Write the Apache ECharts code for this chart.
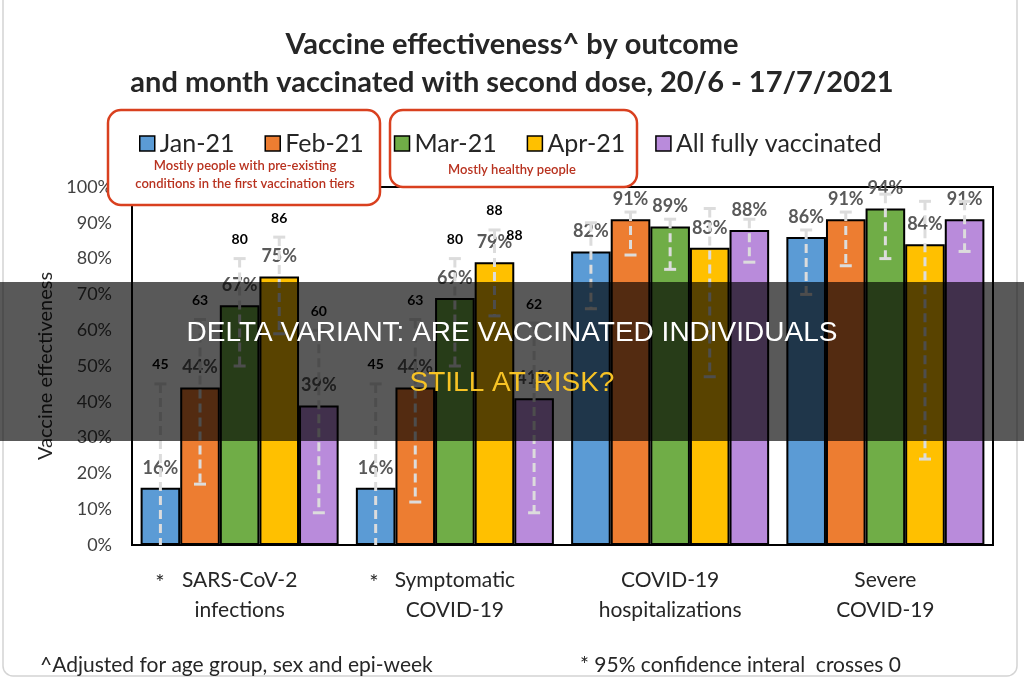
<!DOCTYPE html>
<html>
<head>
<meta charset="utf-8">
<script src="https://cdn.jsdelivr.net/npm/echarts@6/dist/echarts.min.js"></script>
<style>
  html, body { margin: 0; padding: 0; background: #fff; }
  #main { width: 1024px; height: 680px; }
</style>
</head>
<body>
<div id="main"></div>
<script>
// categories + series
var outcomes = ['SARS-CoV-2\ninfections', 'Symptomatic\nCOVID-19', 'COVID-19\nhospitalizations', 'Severe\nCOVID-19'];
var months = ['Jan-21', 'Feb-21', 'Mar-21', 'Apr-21', 'All fully vaccinated'];
var colors = ['#5b9bd5', '#ed7d31', '#70ad47', '#ffc000', '#b98bdb'];

var jan = [16, 16, 82, 86];
var feb = [44, 44, 91, 91];
var mar = [67, 69, 89, 94];
var apr = [75, 79, 83, 84];
var all = [39, 41, 88, 91];

// 95% CI per month, per outcome
var janLow = [-20, -20, 66, 70];
var janHigh = [45, 45, 90, 88];
var febLow = [17, 12, 81, 78];
var febHigh = [63, 63, 93, 93];
var marLow = [50, 50, 77, 80];
var marHigh = [80, 80, 91, 98];
var aprLow = [59, 64, 47, 24];
var aprHigh = [86, 88, 94, 96];
var allLow = [9, 9, 79, 82];
var allHigh = [60, 62, 91, 96];

// upper CI numbers are only printed for the first two outcomes
var ciLabelOutcomes = [0, 1];

var values = [jan, feb, mar, apr, all];
var lows = [janLow, febLow, marLow, aprLow, allLow];
var highs = [janHigh, febHigh, marHigh, aprHigh, allHigh];

var ciData = [];
for (var s = 0; s < 5; s++) {
  for (var c = 0; c < 4; c++) {
    var lbl = ciLabelOutcomes.indexOf(c) >= 0 ? String(highs[s][c]) : '';
    ciData.push([c, s, lows[s][c], highs[s][c], lbl]);
  }
}
// the duplicated "88" on Apr-21 / Symptomatic
var dupLabel = [1, 3, 88];

var catGap = 0.08;
var FONT = 'Lato, "Noto Sans", sans-serif';

function barCenter(api, cat, s) {
  var band = api.size([1, 0])[0];
  var groupW = band * (1 - catGap);
  var barW = groupW / 5;
  var cx = api.coord([cat, 0])[0];
  return { x: cx - groupW / 2 + barW * (s + 0.5), w: barW };
}

var chart = echarts.init(document.getElementById('main'));

var series = months.map(function (m, i) {
  return {
    name: m,
    type: 'bar',
    data: values[i],
    barGap: '0%',
    barCategoryGap: (catGap * 100) + '%',
    itemStyle: { color: colors[i], borderColor: '#000', borderWidth: 2 },
    label: {
      show: true,
      position: 'top',
      distance: 11,
      formatter: '{c}%',
      fontFamily: FONT,
      fontSize: 18,
      fontWeight: 'bold',
      color: '#595959'
    },
    z: 2
  };
});

series.push({
  type: 'custom',
  name: 'ci',
  data: ciData,
  encode: { x: 0, y: 3 },
  clip: true,
  z: 5,
  renderItem: function (params, api) {
    var cat = api.value(0), s = api.value(1);
    var b = barCenter(api, cat, s);
    var yl = api.coord([cat, api.value(2)])[1];
    var yh = api.coord([cat, api.value(3)])[1];
    var stroke = { stroke: '#dcdcdc', lineWidth: 3 };
    var kids = [
      { type: 'line', shape: { x1: b.x, y1: yh, x2: b.x, y2: yl },
        style: { stroke: '#dcdcdc', lineWidth: 3, lineDash: [9, 5] } },
      { type: 'line', shape: { x1: b.x - 6, y1: yh, x2: b.x + 6, y2: yh }, style: stroke },
      { type: 'line', shape: { x1: b.x - 6, y1: yl, x2: b.x + 6, y2: yl }, style: stroke }
    ];
    var txt = api.value(4);
    if (txt) {
      kids.push({ type: 'text', x: b.x, y: yh - 12,
        style: { text: txt, fill: '#000', font: 'bold 14px ' + FONT, align: 'center', verticalAlign: 'bottom' } });
    }
    if (cat === dupLabel[0] && s === dupLabel[1]) {
      kids.push({ type: 'text', x: b.x + 20, y: api.coord([cat, dupLabel[2]])[1] + 6,
        style: { text: String(dupLabel[2]), fill: '#000', font: 'bold 14px ' + FONT, align: 'center', verticalAlign: 'middle' } });
    }
    return { type: 'group', children: kids };
  }
});

chart.setOption({
  backgroundColor: '#fff',
  animation: false,
  title: {
    text: 'Vaccine effectiveness^ by outcome\nand month vaccinated with second dose, 20/6 - 17/7/2021',
    left: 'center',
    top: 21,
    textStyle: { fontFamily: FONT, fontSize: 29, fontWeight: 'bold', color: '#262626', lineHeight: 38, align: 'center' }
  },
  legend: {
    data: months,
    left: 134,
    top: 126,
    z: 20,
    icon: 'rect',
    itemWidth: 15,
    itemHeight: 15,
    itemGap: 30,
    itemStyle: { borderColor: '#000', borderWidth: 1.5 },
    textStyle: { fontFamily: FONT, fontSize: 25, color: '#262626' }
  },
  grid: {
    left: 132, right: 31, top: 187, bottom: 135,
    show: true, borderColor: '#000', borderWidth: 2, backgroundColor: 'transparent'
  },
  xAxis: {
    type: 'category',
    data: outcomes,
    axisTick: { show: false },
    axisLine: { lineStyle: { color: '#000', width: 2 } },
    axisLabel: { fontFamily: FONT, fontSize: 21, color: '#262626', lineHeight: 30, margin: 20 }
  },
  yAxis: {
    type: 'value',
    min: 0, max: 100, interval: 10,
    name: 'Vaccine effectiveness',
    nameLocation: 'middle',
    nameGap: 76,
    nameTextStyle: { fontFamily: FONT, fontSize: 20, color: '#262626' },
    axisLine: { show: true, lineStyle: { color: '#000', width: 2 } },
    axisTick: { show: false },
    splitLine: { show: false },
    axisLabel: { formatter: '{value}%', fontFamily: FONT, fontSize: 18, color: '#404040', margin: 20 }
  },
  graphic: [
    // frame
    { type: 'rect', shape: { x: 3, y: -12, width: 1014, height: 688, r: 10 },
      style: { fill: 'transparent', stroke: '#d4d4d4', lineWidth: 1.5 }, z: 1 },
    // red boxes (under the legend, over the plot frame)
    { type: 'rect', shape: { x: 108, y: 110, width: 272, height: 95, r: 13 },
      style: { fill: '#fff', stroke: '#d9401f', lineWidth: 2.5 }, z: 3 },
    { type: 'rect', shape: { x: 390, y: 110, width: 247, height: 77, r: 13 },
      style: { fill: '#fff', stroke: '#d9401f', lineWidth: 2.5 }, z: 3 },
    { type: 'text', x: 245, y: 175, z: 11,
      style: { text: 'Mostly people with pre-existing\nconditions in the first vaccination tiers', fill: '#b8321f',
        font: '600 13px ' + FONT, align: 'center', verticalAlign: 'middle', lineHeight: 18 } },
    { type: 'text', x: 512, y: 170, z: 11,
      style: { text: 'Mostly healthy people', fill: '#b8321f', font: '600 13px ' + FONT, align: 'center', verticalAlign: 'middle' } },
    // stars on first two categories
    { type: 'text', x: 160, y: 583, z: 11,
      style: { text: '*', fill: '#262626', font: '22px ' + FONT, align: 'center', verticalAlign: 'middle' } },
    { type: 'text', x: 374, y: 583, z: 11,
      style: { text: '*', fill: '#262626', font: '22px ' + FONT, align: 'center', verticalAlign: 'middle' } },
    // footnotes
    { type: 'text', x: 40, y: 665, z: 11,
      style: { text: '^Adjusted for age group, sex and epi-week', fill: '#262626', font: '21px ' + FONT, verticalAlign: 'middle' } },
    { type: 'text', x: 580, y: 665, z: 11,
      style: { text: '* 95% confidence interal  crosses 0', fill: '#262626', font: '21px ' + FONT, verticalAlign: 'middle' } },
    // banner overlay
    { type: 'rect', shape: { x: 0, y: 282, width: 1024, height: 159 },
      style: { fill: 'rgba(0,0,0,0.65)' }, z: 50 },
    { type: 'text', x: 512, y: 333, z: 51,
      style: { text: 'DELTA VARIANT: ARE VACCINATED INDIVIDUALS', fill: '#ffffff',
        font: '28px "Liberation Sans", Arial, sans-serif', align: 'center', verticalAlign: 'middle' } },
    { type: 'text', x: 512, y: 383, z: 51,
      style: { text: 'STILL AT RISK?', fill: '#f7c325',
        font: '28px "Liberation Sans", Arial, sans-serif', align: 'center', verticalAlign: 'middle' } }
  ],
  series: series
});
</script>
</body>
</html>
